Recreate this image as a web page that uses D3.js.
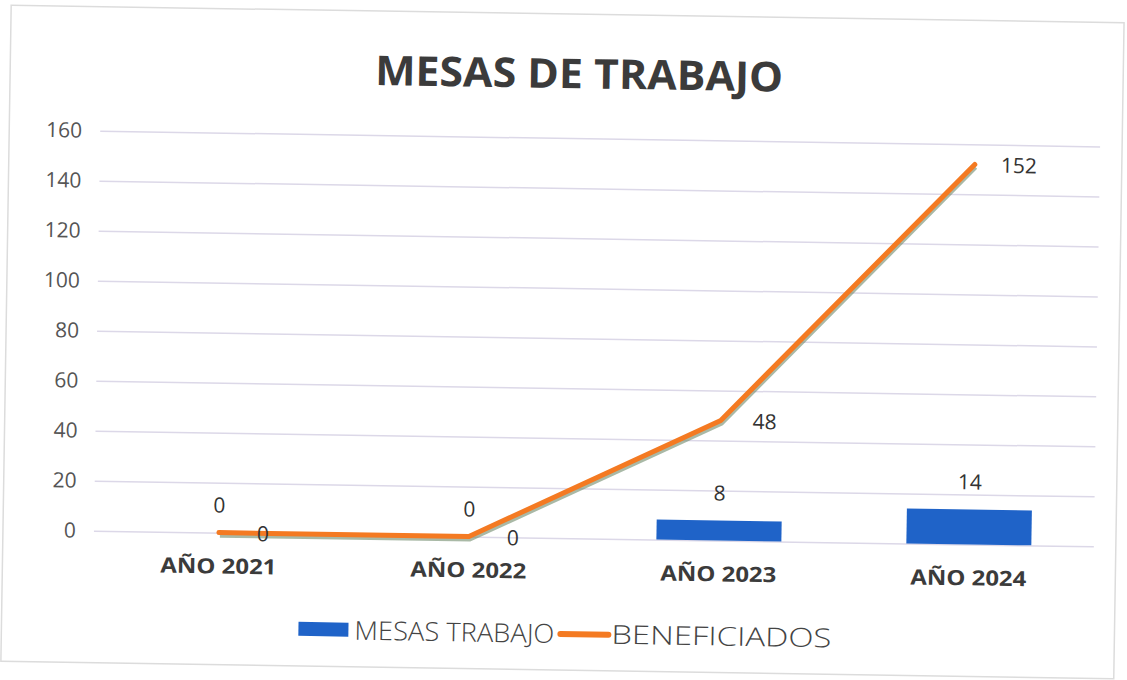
<!DOCTYPE html>
<html>
<head>
<meta charset="utf-8">
<script src="https://cdn.jsdelivr.net/npm/d3@7"></script>
<style>
  body { margin: 0; background: #fff; }
</style>
</head>
<body>
<div class="chart"></div>
<script>
const categories = ['AÑO 2021', 'AÑO 2022', 'AÑO 2023', 'AÑO 2024'];
const mesasTrabajo = [0, 0, 8, 14];
const beneficiados = [0, 0, 48, 152];
const yTicks = [0, 20, 40, 60, 80, 100, 120, 140, 160];

const fullWidth = 1127;
const fullHeight = 680;
const margin = { top: 138, right: 30, bottom: 142, left: 97 };
const width = fullWidth - margin.left - margin.right;
const height = fullHeight - margin.top - margin.bottom;

const svg = d3.select('.chart')
    .append('svg')
        .attr('width', fullWidth)
        .attr('height', fullHeight);

// the original is a slightly tilted scan
const root = svg.append('g')
    .attr('transform', `rotate(0.9, ${fullWidth / 2}, ${fullHeight / 2})`);

root.append('rect')
    .attr('x', 6).attr('y', 14)
    .attr('width', fullWidth - 14).attr('height', fullHeight - 24)
    .attr('fill', '#fff')
    .attr('stroke', '#dcdcdc')
    .attr('stroke-width', 1.5);

root.append('text')
    .attr('x', 575)
    .attr('y', 88)
    .attr('text-anchor', 'middle')
    .attr('textLength', 408)
    .attr('lengthAdjust', 'spacingAndGlyphs')
    .style('font-family', '"Open Sans", sans-serif')
    .style('font-weight', 'bold')
    .style('font-size', '41px')
    .style('fill', '#3b3b3b')
    .text('MESAS DE TRABAJO');

const chart = root.append('g')
    .attr('transform', `translate(${margin.left}, ${margin.top})`);

const yScale = d3.scaleLinear()
    .domain([0, 160])
    .range([height, 0]);

const xScale = d3.scaleBand()
    .domain(categories)
    .range([0, width])
    .paddingInner(0.5)
    .paddingOuter(0.25);

const yAxis = d3.axisLeft(yScale)
    .tickValues(yTicks)
    .tickSize(-width)
    .tickPadding(18);

chart.append('g')
    .call(yAxis)
    .call(g => g.select('.domain').remove())
    .call(g => g.selectAll('line').attr('stroke', '#dcd8e8').attr('stroke-width', 1.5))
    .call(g => g.selectAll('text')
        .style('font-family', '"Open Sans", sans-serif')
        .style('font-size', '21px')
        .style('fill', '#555'));

const xAxis = d3.axisBottom(xScale)
    .tickSize(0)
    .tickPadding(26);

chart.append('g')
    .attr('transform', `translate(0, ${height})`)
    .call(xAxis)
    .call(g => g.select('.domain').remove())
    .call(g => g.selectAll('text')
        .attr('textLength', 116)
        .attr('lengthAdjust', 'spacingAndGlyphs')
        .style('font-family', '"Open Sans", sans-serif')
        .style('font-weight', 'bold')
        .style('font-size', '21px')
        .style('fill', '#3b3b3b'));

const rows = categories.map((c, i) => ({ cat: c, mesas: mesasTrabajo[i], ben: beneficiados[i] }));

chart.selectAll('rect.bar')
    .data(rows)
    .enter()
    .append('rect')
        .attr('class', 'bar')
        .attr('x', d => xScale(d.cat))
        .attr('y', d => yScale(d.mesas))
        .attr('width', xScale.bandwidth())
        .attr('height', d => height - yScale(d.mesas))
        .attr('fill', '#1f63c8');

chart.selectAll('text.barlabel')
    .data(rows)
    .enter()
    .append('text')
        .attr('class', 'barlabel')
        .attr('x', d => xScale(d.cat) + xScale.bandwidth() / 2)
        .attr('y', d => yScale(d.mesas) - 20)
        .attr('text-anchor', 'middle')
        .style('font-family', '"Open Sans", sans-serif')
        .style('font-size', '21px')
        .style('fill', '#333')
        .text(d => d.mesas);

const line = d3.line()
    .x(d => xScale(d.cat) + xScale.bandwidth() / 2)
    .y(d => yScale(d.ben));

// soft shadow under the line
chart.append('path')
    .datum(rows)
    .attr('d', line)
    .attr('transform', 'translate(1, 3)')
    .attr('fill', 'none')
    .attr('stroke', '#6f8a6a')
    .attr('stroke-opacity', 0.6)
    .attr('stroke-width', 4);

chart.append('path')
    .datum(rows)
    .attr('d', line)
    .attr('fill', 'none')
    .attr('stroke', '#f47a22')
    .attr('stroke-width', 5)
    .attr('stroke-linejoin', 'round')
    .attr('stroke-linecap', 'round');

chart.selectAll('text.linelabel')
    .data(rows)
    .enter()
    .append('text')
        .attr('class', 'linelabel')
        .attr('x', d => xScale(d.cat) + xScale.bandwidth() / 2 + 44)
        .attr('y', d => yScale(d.ben) + 8)
        .attr('text-anchor', 'middle')
        .style('font-family', '"Open Sans", sans-serif')
        .style('font-size', '21px')
        .style('fill', '#333')
        .text(d => d.ben);

// legend
const legend = root.append('g')
    .attr('transform', 'translate(303, 624)')
    .style('font-family', '"Open Sans", sans-serif')
    .style('font-weight', 300)
    .style('font-size', '26px')
    .style('fill', '#444');

legend.append('rect')
    .attr('x', 0).attr('y', 2)
    .attr('width', 50).attr('height', 14)
    .attr('fill', '#1f63c8');

legend.append('text')
    .attr('x', 56).attr('y', 19)
    .attr('textLength', 200)
    .attr('lengthAdjust', 'spacingAndGlyphs')
    .text('MESAS TRABAJO');

legend.append('line')
    .attr('x1', 262).attr('x2', 310)
    .attr('y1', 10).attr('y2', 10)
    .attr('stroke', '#f47a22')
    .attr('stroke-width', 6)
    .attr('stroke-linecap', 'round');

legend.append('text')
    .attr('x', 313).attr('y', 19)
    .attr('textLength', 220)
    .attr('lengthAdjust', 'spacingAndGlyphs')
    .text('BENEFICIADOS');
</script>
</body>
</html>
